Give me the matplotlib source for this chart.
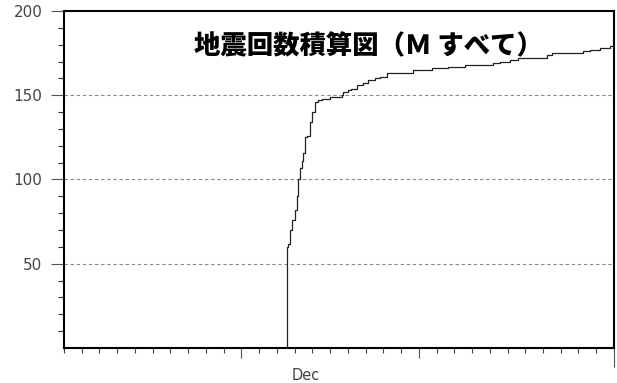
import matplotlib
matplotlib.use("Agg")
import matplotlib.pyplot as plt
import matplotlib.transforms as mtransforms

# Event times (days from axis origin) and cumulative earthquake counts
event_days = [12.59, 12.59, 12.64, 12.74, 12.85, 13.02, 13.12, 13.21, 13.30,
              13.40, 13.47, 13.59, 13.68, 13.87, 13.96, 14.15, 14.32, 14.53,
              14.99, 15.65, 15.71, 16.01, 16.16, 16.49, 16.85, 17.14, 17.53,
              17.81, 18.19, 19.67, 20.72, 21.65, 22.60, 24.18, 24.58, 25.14,
              25.59, 27.21, 27.49, 29.26, 29.65, 30.21, 30.78, 31.0]
cum_counts = [0, 60, 62, 70, 76, 82, 90, 100, 107,
              111, 116, 125, 126, 134, 140, 146, 147, 148,
              149, 150, 152, 153, 154, 156, 157, 159, 160,
              161, 163, 165, 166, 167, 168, 169, 170, 171,
              172, 174, 175, 176, 177, 178, 179, 179]

y_major = [50, 100, 150, 200]
y_minor = list(range(10, 200, 10))
x_minor = list(range(0, 32))
x_major = [10, 20, 31]
month_label = "Dec"
month_pos = 13.6
title = "地震回数積算図（Ｍ すべて）"

fig = plt.figure(figsize=(6.17, 3.83), dpi=100)
ax = fig.add_axes([0.1037, 0.0914, 0.8914, 0.8799])

ax.step(event_days, cum_counts, where="post", color="#222222", lw=0.9)

ax.set_xlim(0, 31)
ax.set_ylim(0, 200)

for v in [50, 100, 150]:
    ax.axhline(v, color="#888888", lw=0.8, ls=(0, (3, 2.5)), zorder=0)

ax.set_yticks(y_major)
ax.set_yticklabels([str(v) for v in y_major])
ax.set_yticks(y_minor, minor=True)
ax.tick_params(axis="y", which="major", direction="out", length=9.5, width=0.8,
               color="#555555", labelsize=11, labelcolor="#444444", pad=6)
ax.tick_params(axis="y", which="minor", direction="out", length=4, width=0.8,
               color="#333333")

ax.set_xticks(x_major)
ax.set_xticklabels([""] * len(x_major))
ax.set_xticks(x_minor, minor=True)
ax.tick_params(axis="x", which="major", direction="out", length=7.5, width=0.8,
               color="#555555")
ax.tick_params(axis="x", which="minor", direction="out", length=3.5, width=0.8,
               color="#444444")
# Longer end mark on the right edge of the time axis
ax.xaxis.get_major_ticks()[-1].tick1line.set_markersize(14)

trans = mtransforms.blended_transform_factory(ax.transData, ax.transAxes)
ax.text(month_pos, -0.06, month_label, transform=trans, ha="center", va="top",
        fontsize=10.5, color="#444444", family="DejaVu Sans")

for s in ax.spines.values():
    s.set_linewidth(1.5)
    s.set_color("black")

ax.text(0.553, 0.895, title, transform=ax.transAxes, ha="center", va="center",
        fontsize=19, fontweight="heavy", color="black",
        family=["Noto Sans CJK JP", "DejaVu Sans"])

fig.savefig("out.png", dpi=100)
